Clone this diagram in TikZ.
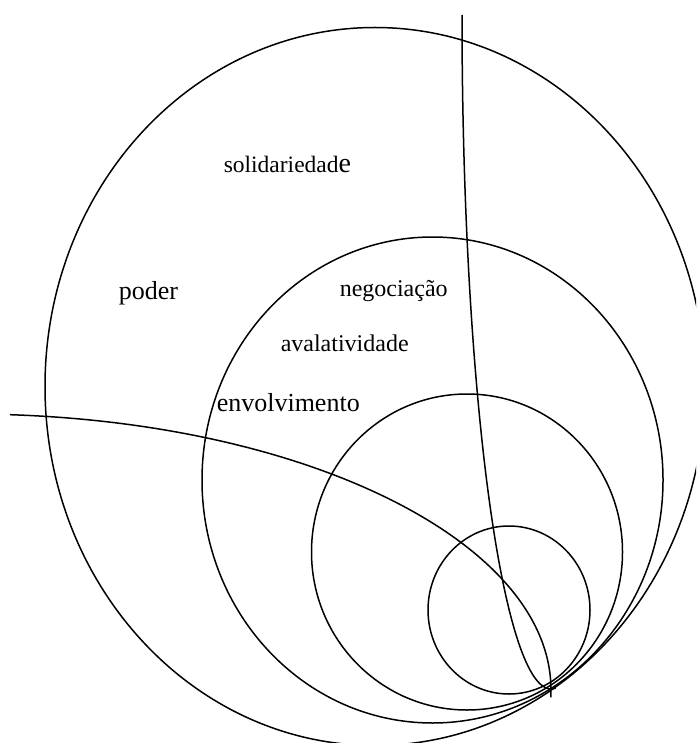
\documentclass[tikz,border=0pt]{standalone}
\usepackage{fontspec}
\setmainfont{Liberation Serif}
\begin{document}
\begin{tikzpicture}[x=1pt,y=-1pt,line width=1.5pt,
  lbl/.style={anchor=base west,inner sep=0pt,font=\fontsize{24}{26}\selectfont},
  lblbig/.style={lbl,font=\fontsize{26}{28}\selectfont}]
\useasboundingbox (0,0) rectangle (696,743);
\clip (0,0) rectangle (696,743);
% tangent circles / ellipses
\draw (375,386.5) ellipse [x radius=330pt, y radius=359pt];
\draw (432.5,480) ellipse [x radius=230.5pt, y radius=243pt];
\draw (467,552) ellipse [x radius=155.5pt, y radius=158pt];
\draw (509,610) ellipse [x radius=81pt, y radius=84pt];
% the two arcs through the tangent point
\coordinate (a0) at (462,15);
\coordinate (b0) at (10,414.7);
\draw (a0) arc [start angle=180, end angle=273, x radius=89pt, y radius=674pt];
\draw (b0) arc [start angle=86.05, end angle=-1.5, x radius=581pt, y radius=276pt];
% labels
\node[lbl] (solid) at (223,173) {{\fontsize{23.5}{25}\selectfont solidariedad}{\fontsize{28}{30}\selectfont e}};
\node[lblbig] (poder) at (118,299) {poder};
\node[lbl] (neg) at (339,296) {negociação};
\node[lbl] (aval) at (280,351) {avalatividade};
\node[lblbig] (env) at (216,411.7) {envolvimento};
\end{tikzpicture}
\end{document}
